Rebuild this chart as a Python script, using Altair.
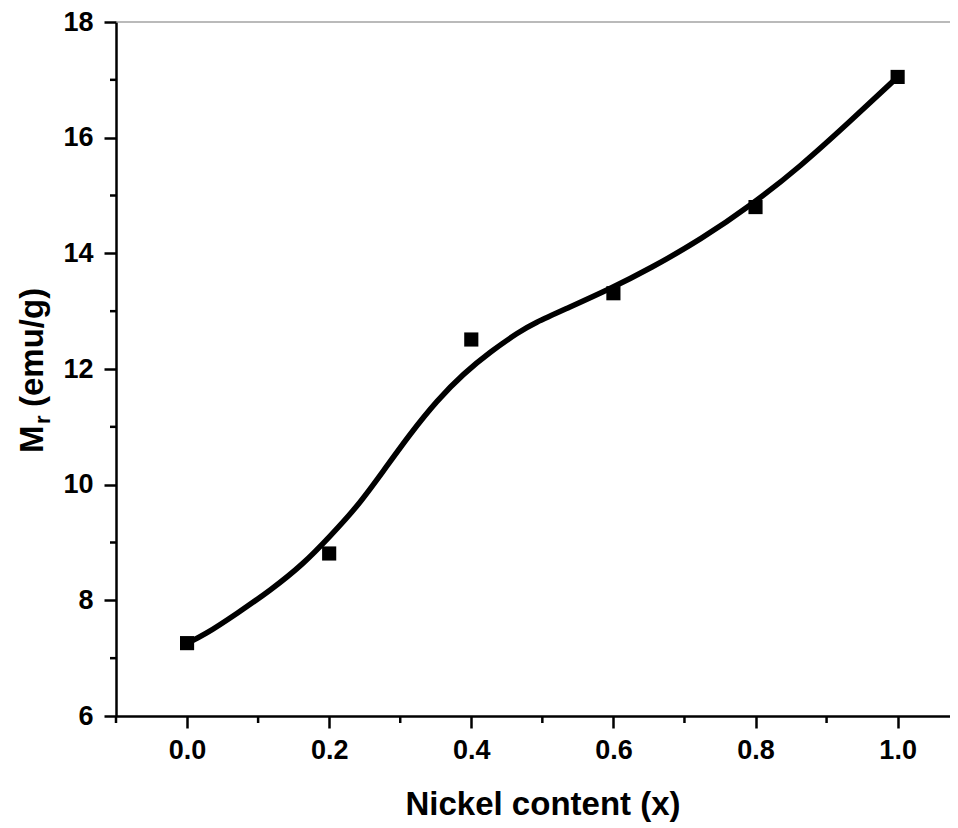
import altair as alt
import pandas as pd

# measured data points
x_points = [0.0, 0.2, 0.4, 0.6, 0.8, 1.0]
mr_points = [7.26, 8.81, 12.51, 13.31, 14.80, 17.05]

# fitted smooth curve
x_curve = [0.0, 0.023, 0.070, 0.117, 0.164, 0.202, 0.239, 0.277, 0.314, 0.352,
           0.389, 0.427, 0.467, 0.488, 0.535, 0.596, 0.652, 0.722, 0.797, 0.863,
           0.933, 1.0]
mr_curve = [7.26, 7.39, 7.77, 8.17, 8.63, 9.12, 9.61, 10.25, 10.88, 11.46,
            11.92, 12.30, 12.64, 12.79, 13.05, 13.39, 13.74, 14.23, 14.86, 15.50,
            16.28, 17.05]

x_ticks = [0.0, 0.2, 0.4, 0.6, 0.8, 1.0]
x_minor = [-0.1, 0.1, 0.3, 0.5, 0.7, 0.9]
y_ticks = [6, 8, 10, 12, 14, 16, 18]
y_minor = [7, 9, 11, 13, 15, 17]
y_top = [18]

x_title = "Nickel content (x)"
y_title_parts = ["M", "r", "(emu/g)"]

W = 834
H = 694
FONT = "Liberation Sans"

xs = alt.Scale(domain=[-0.1, 1.0737], nice=False, zero=False)
ys = alt.Scale(domain=[6, 18], nice=False, zero=False)

x_axis = alt.Axis(
    values=x_ticks, format=".1f", title=x_title, grid=False,
    domainWidth=2.5, domainColor="black", tickColor="black", tickWidth=2.5,
    tickSize=12, labelFont=FONT, labelFontSize=27, labelFontWeight="bold",
    labelColor="black", labelPadding=9, labelFlush=False, labelOverlap=False,
    titleFont=FONT, titleFontSize=33, titleFontWeight="bold", titleColor="black",
    titleX=426.5, titleY=98, titleBaseline="alphabetic", titleAlign="center",
)
y_axis = alt.Axis(
    values=y_ticks, format="d", title="", grid=False,
    domainWidth=2.5, domainColor="black", tickColor="black", tickWidth=2.5,
    tickSize=12, labelFont=FONT, labelFontSize=27, labelFontWeight="bold",
    labelColor="black", labelPadding=11, labelFlush=False, labelOverlap=False,
)

curve_df = pd.DataFrame({"x": x_curve, "mr": mr_curve})
pts_df = pd.DataFrame({"x": x_points, "mr": mr_points})

top_rule = alt.Chart(pd.DataFrame({"mr": y_top})).mark_rule(
    color="#777777", strokeWidth=1.2
).encode(y=alt.Y("mr:Q", scale=ys, axis=y_axis), x=alt.value(0), x2=alt.value(W))

curve = alt.Chart(curve_df).mark_line(
    color="black", strokeWidth=5.5, interpolate="basis"
).encode(
    x=alt.X("x:Q", scale=xs, axis=x_axis),
    y=alt.Y("mr:Q", scale=ys, axis=y_axis),
)

points = alt.Chart(pts_df).mark_point(
    shape="square", filled=True, size=200, color="black", opacity=1
).encode(x=alt.X("x:Q", scale=xs), y=alt.Y("mr:Q", scale=ys))

y_minor_ticks = alt.Chart(pd.DataFrame({"mr": y_minor})).mark_rule(
    color="black", strokeWidth=2.5
).encode(y=alt.Y("mr:Q", scale=ys), x=alt.value(0), x2=alt.value(-6))

x_minor_ticks = alt.Chart(pd.DataFrame({"x": x_minor})).mark_rule(
    color="black", strokeWidth=2.5
).encode(x=alt.X("x:Q", scale=xs), y=alt.value(H), y2=alt.value(H + 7))

t_m = alt.Chart(pd.DataFrame({"t": [y_title_parts[0]]})).mark_text(
    angle=270, align="left", baseline="alphabetic", font=FONT, fontSize=33,
    fontWeight="bold", color="black"
).encode(text="t:N", x=alt.value(-73), y=alt.value(431))

t_r = alt.Chart(pd.DataFrame({"t": [y_title_parts[1]]})).mark_text(
    angle=270, align="left", baseline="alphabetic", font=FONT, fontSize=22,
    fontWeight="bold", color="black"
).encode(text="t:N", x=alt.value(-66), y=alt.value(402))

t_rest = alt.Chart(pd.DataFrame({"t": [y_title_parts[2]]})).mark_text(
    angle=270, align="left", baseline="alphabetic", font=FONT, fontSize=33,
    fontWeight="bold", color="black"
).encode(text="t:N", x=alt.value(-73), y=alt.value(385))

chart = alt.layer(
    top_rule, curve, points, y_minor_ticks, x_minor_ticks, t_m, t_r, t_rest
).properties(
    width=W, height=H,
    autosize=alt.AutoSizeParams(type="none"),
    padding={"left": 108, "top": 14, "right": 0, "bottom": 106},
).configure_view(strokeWidth=0)

chart.save("out.html", embed_options={"renderer": "svg", "actions": False})
